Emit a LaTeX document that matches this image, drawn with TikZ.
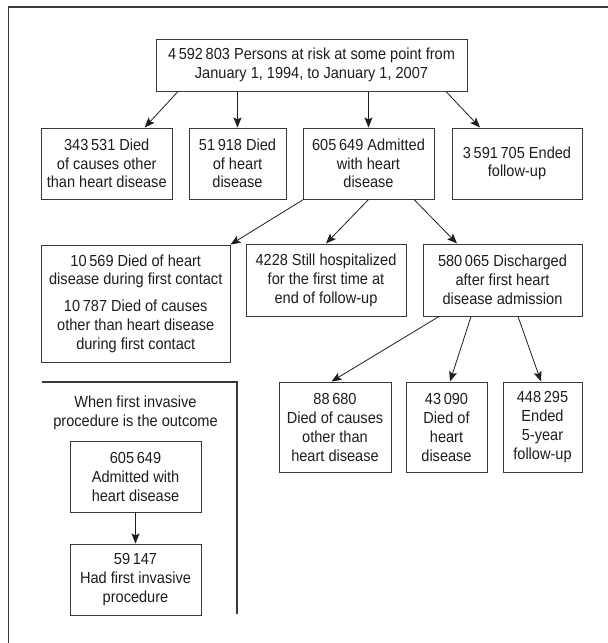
\documentclass[tikz,border=0pt]{standalone}
\usepackage{fontspec}
\setmainfont{Liberation Sans}[FakeStretch=0.91]
\usetikzlibrary{arrows.meta,calc}
\definecolor{ink}{HTML}{1E1E1E}
\definecolor{edge}{HTML}{3A3A3A}
\begin{document}
\begin{tikzpicture}[x=1pt,y=-1pt,
  box/.style={draw=edge,line width=1pt,align=center,inner sep=0pt,text=ink,
    font=\fontsize{16}{18.6}\selectfont},
  tallbox/.style={box,font=\fontsize{16}{19}\selectfont},
  conn/.style={draw=ink,line width=0.8pt,-{Stealth[length=10pt,width=8pt,inset=2pt]}},
  frameline/.style={draw=edge,line width=1.6pt},
  plain/.style={align=center,inner sep=0pt,text=ink,font=\fontsize{16}{19}\selectfont}]
\useasboundingbox (0,0) rectangle (608,643);
\fill[white] (0,0) rectangle (608,643);
% outer frame (only top and left visible)
\draw[frameline] (608,7) -- (8.5,7) -- (8.5,643);

\node[box,minimum width=311pt,minimum height=52pt] (top) at (311.5,65)
  {4\,592\,803 Persons at risk at some point from\\January 1, 1994, to January 1, 2007};

\node[box,minimum width=130.5pt,minimum height=71pt] (a) at (106.75,163.5)
  {343\,531 Died\\of causes other\\than heart disease};
\node[box,minimum width=97pt,minimum height=71pt] (b) at (237.5,163.5)
  {51\,918 Died\\of heart\\disease};
\node[box,minimum width=131pt,minimum height=71pt] (c) at (368.5,163.5)
  {605\,649 Admitted\\with heart\\disease};
\node[box,minimum width=130pt,minimum height=71pt] (d) at (517,163.5)
  {3\,591\,705 Ended\\follow-up};

\node[box,font=\fontsize{16}{18.8}\selectfont,minimum width=188.5pt,minimum height=117pt] (e) at (135.75,303.5)
  {10\,569 Died of heart\\disease during first contact\\[8pt]10\,787 Died of causes\\other than heart disease\\during first contact};
\node[tallbox,minimum width=160pt,minimum height=72pt] (f) at (326,280)
  {4228 Still hospitalized\\for the first time at\\end of follow-up};
\node[tallbox,minimum width=159pt,minimum height=72pt] (g) at (502.5,280)
  {580\,065 Discharged\\after first heart\\disease admission};

\node[tallbox,minimum width=112pt,minimum height=90pt] (j) at (335,427)
  {88\,680\\Died of causes\\other than\\heart disease};
\node[tallbox,minimum width=81pt,minimum height=90pt] (k) at (446.5,427)
  {43\,090\\Died of\\heart\\disease};
\node[tallbox,minimum width=79pt,minimum height=90pt] (l) at (542.5,427)
  {448\,295\\Ended\\5-year\\follow-up};

% inset panel
\coordinate (pa) at (41.5,382);
\coordinate (pb) at (237,382);
\coordinate (pc) at (237,614);
\draw[frameline,line width=1.4pt] (pa) -- (pb) -- (pc);
\node[plain] (ptitle) at (135.5,412.5)
  {When first invasive\\procedure is the outcome};
\node[tallbox,minimum width=131pt,minimum height=71pt] (h) at (135.5,476.5)
  {605\,649\\Admitted with\\heart disease};
\node[tallbox,minimum width=131pt,minimum height=71pt] (i) at (135.5,579.5)
  {59\,147\\Had first invasive\\procedure};

% connectors
\draw[conn] ([xshift=-133.5pt]top.south) -- ([xshift=38pt]a.north);
\draw[conn] (top.south -| b.north) -- (b.north);
\draw[conn] (top.south -| c.north) -- (c.north);
\draw[conn] ([xshift=134.5pt]top.south) -- ([xshift=-37pt]d.north);

\draw[conn] ([xshift=1pt]c.south west) -- (e.north east);
\draw[conn] (c.south) -- (f.north);
\draw[conn] ([xshift=45.5pt]c.south) -- ([xshift=-45.5pt]g.north);

\draw[conn] ([xshift=-63.5pt]g.south) -- ([xshift=-3.5pt]j.north);
\draw[conn] ([xshift=-31.5pt]g.south) -- ([xshift=3.5pt]k.north);
\draw[conn] ([xshift=15.5pt]g.south) -- ([xshift=-1.5pt]l.north);

\draw[conn] (h.south) -- (i.north);
\end{tikzpicture}
\end{document}
